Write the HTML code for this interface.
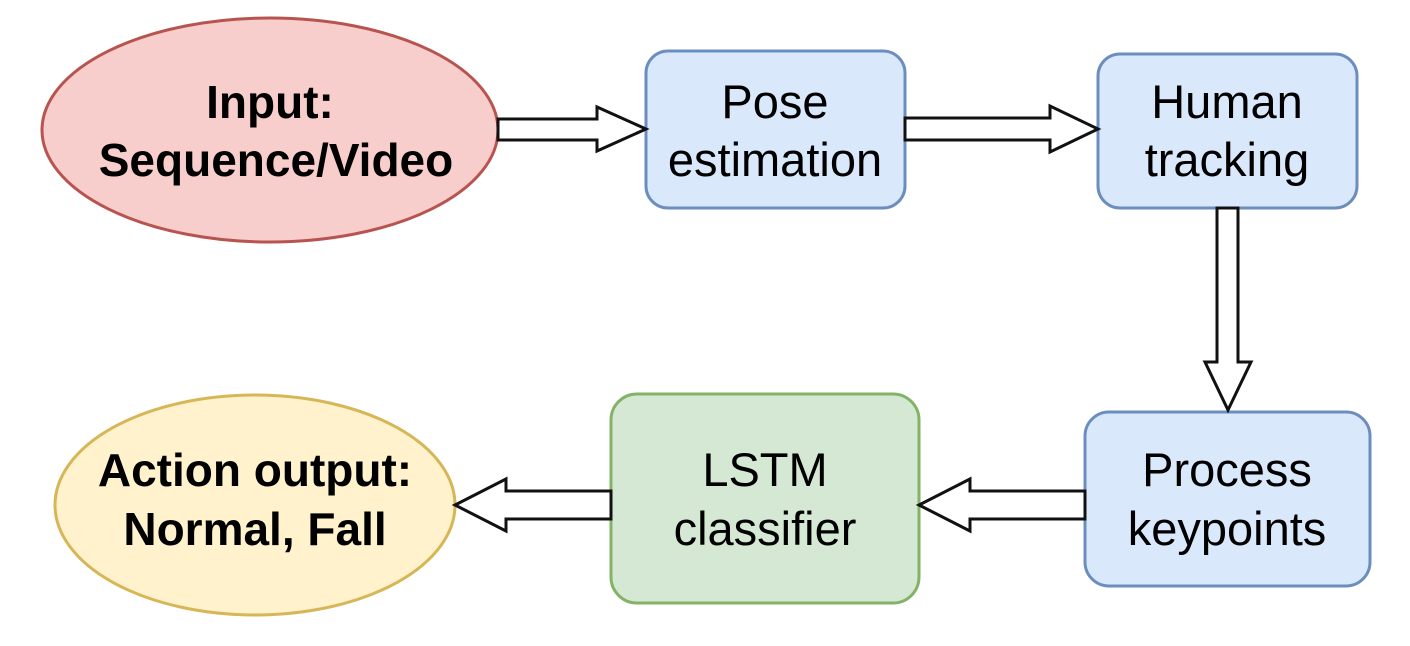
<!DOCTYPE html>
<html><head><style>
body{margin:0;background:#fff;}
svg{display:block}
text{font-family:"Liberation Sans",Arial,sans-serif;font-size:47px;text-anchor:middle;fill:#000}
.b{font-weight:bold;font-size:46px}
</style></head><body>
<svg width="1410" height="646" viewBox="0 0 1410 646">
<ellipse cx="270" cy="130" rx="228" ry="112" fill="#f8cecc" stroke="#b85450" stroke-width="3"/>
<text class="b" x="270" y="118">Input:</text>
<text class="b" x="276" y="176">Sequence/Video</text>
<rect x="646" y="51" width="259" height="157" rx="22" fill="#dae8fc" stroke="#6c8ebf" stroke-width="3"/>
<text x="775" y="118">Pose</text>
<text x="775" y="176">estimation</text>
<rect x="1098" y="54" width="259" height="154" rx="22" fill="#dae8fc" stroke="#6c8ebf" stroke-width="3"/>
<text x="1227" y="118">Human</text>
<text x="1227" y="176">tracking</text>
<rect x="1085" y="412" width="285" height="174" rx="24" fill="#dae8fc" stroke="#6c8ebf" stroke-width="3"/>
<text x="1227" y="486">Process</text>
<text x="1227" y="545">keypoints</text>
<rect x="611" y="394" width="308" height="209" rx="26" fill="#d5e8d4" stroke="#82b366" stroke-width="3"/>
<text x="765" y="486">LSTM</text>
<text x="765" y="545">classifier</text>
<ellipse cx="255" cy="505" rx="200" ry="110" fill="#fff2cc" stroke="#d6b656" stroke-width="3"/>
<text class="b" x="255" y="486">Action output:</text>
<text class="b" x="255" y="545">Normal, Fall</text>
<g fill="#fff" stroke="#111" stroke-width="3" stroke-linejoin="miter">
<polygon points="498,119 597,119 597,107 646,129 597,151 597,140 498,140"/>
<polygon points="905,118 1050,118 1050,106 1098,129 1050,152 1050,140 905,140"/>
<polygon points="1217,208 1238,208 1238,362 1251,362 1228,410 1205,362 1217,362"/>
<polygon points="1085,491 970,491 970,479 919,505 970,531 970,519 1085,519"/>
<polygon points="611,491 506,491 506,479 455,505 506,531 506,519 611,519"/>
</g>
</svg>
</body></html>
